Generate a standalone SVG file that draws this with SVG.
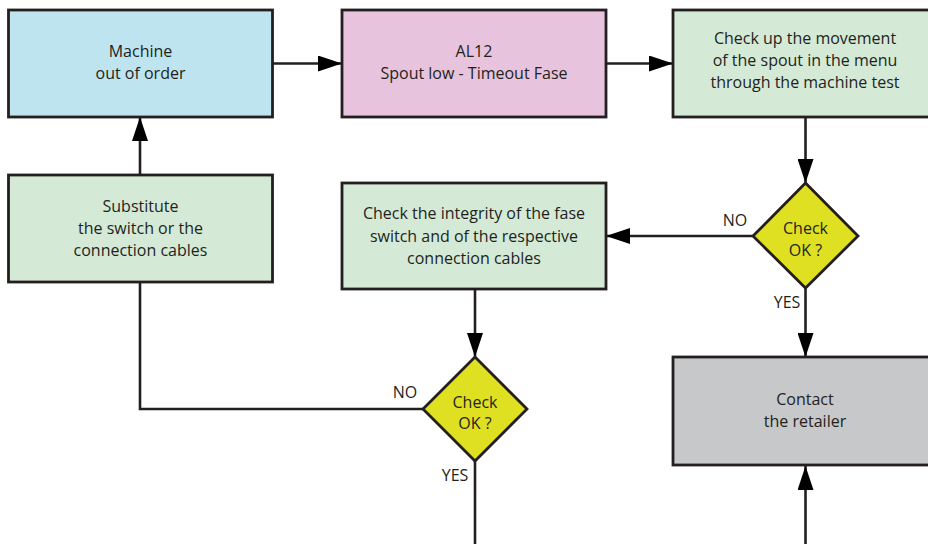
<svg xmlns="http://www.w3.org/2000/svg" width="928" height="544" viewBox="0 0 928 544">
<style>
.box{stroke:#231f20;stroke-width:2.8}
.t{font-family:"Open Sans","Liberation Sans",sans-serif;font-size:16px;fill:#231f20;text-anchor:middle}
.lbl{font-family:"Open Sans","Liberation Sans",sans-serif;font-size:16px;fill:#231f20;text-anchor:middle}
.ln{fill:none;stroke:#231f20;stroke-width:2.6}
</style>
<defs>
<marker id="ah" viewBox="0 0 24 16" refX="24" refY="8" markerWidth="24" markerHeight="16" markerUnits="userSpaceOnUse" orient="auto">
<path d="M0,0 L24,8 L0,16 Z" fill="#000"/>
</marker>
</defs>
<rect width="928" height="544" fill="#fff"/>
<g id="connectors">
<line class="ln" x1="272" y1="63.5" x2="342" y2="63.5" marker-end="url(#ah)"/>
<line class="ln" x1="606" y1="63.5" x2="673" y2="63.5" marker-end="url(#ah)"/>
<line class="ln" x1="805.5" y1="117" x2="805.5" y2="183" marker-end="url(#ah)"/>
<line class="ln" x1="753" y1="236" x2="606" y2="236" marker-end="url(#ah)"/>
<line class="ln" x1="805.5" y1="288" x2="805.5" y2="357" marker-end="url(#ah)"/>
<line class="ln" x1="805.5" y1="544" x2="805.5" y2="466" marker-end="url(#ah)"/>
<line class="ln" x1="475" y1="289" x2="475" y2="357" marker-end="url(#ah)"/>
<polyline class="ln" points="423,409 140,409 140,282"/>
<line class="ln" x1="475" y1="461" x2="475" y2="544"/>
<line class="ln" x1="140" y1="174" x2="140" y2="117" marker-end="url(#ah)"/>
<text class="lbl" x="735" y="226">NO</text>
<text class="lbl" x="787" y="308">YES</text>
<text class="lbl" x="405" y="398">NO</text>
<text class="lbl" x="455" y="481">YES</text>
</g>
<g id="n1">
<rect class="box" x="8.5" y="10" width="264" height="107" fill="#bee4f0"/>
<text class="t" x="140.5" y="57">Machine</text>
<text class="t" x="140.5" y="79">out of order</text>
</g>
<g id="n2">
<rect class="box" x="342" y="10" width="264" height="107" fill="#e7c3dd"/>
<text class="t" x="474" y="57">AL12</text>
<text class="t" x="474" y="79">Spout low - Timeout Fase</text>
</g>
<g id="n3">
<rect class="box" x="673" y="10" width="264" height="107" fill="#d5ead6"/>
<text class="t" x="805" y="44">Check up the movement</text>
<text class="t" x="805" y="66">of the spout in the menu</text>
<text class="t" x="805" y="88">through the machine test</text>
</g>
<g id="d1">
<polygon class="box" points="805.5,183 858,236 805.5,288 753,236" fill="#e0e022"/>
<text class="t" x="805.5" y="234">Check</text>
<text class="t" x="805.5" y="256">OK ?</text>
</g>
<g id="n4">
<rect class="box" x="342" y="183" width="264" height="106" fill="#d5ead6"/>
<text class="t" x="474" y="219">Check the integrity of the fase</text>
<text class="t" x="474" y="242">switch and of the respective</text>
<text class="t" x="474" y="264">connection cables</text>
</g>
<g id="d2">
<polygon class="box" points="475,357 527,409 475,461 423,409" fill="#e0e022"/>
<text class="t" x="475" y="408">Check</text>
<text class="t" x="475" y="429">OK ?</text>
</g>
<g id="n5">
<rect class="box" x="8.5" y="175" width="264" height="107" fill="#d5ead6"/>
<text class="t" x="140.5" y="212">Substitute</text>
<text class="t" x="140.5" y="234">the switch or the</text>
<text class="t" x="140.5" y="256">connection cables</text>
</g>
<g id="n6">
<rect class="box" x="673" y="357" width="264" height="108" fill="#c6c8c9"/>
<text class="t" x="805" y="405">Contact</text>
<text class="t" x="805" y="427">the retailer</text>
</g>
</svg>
